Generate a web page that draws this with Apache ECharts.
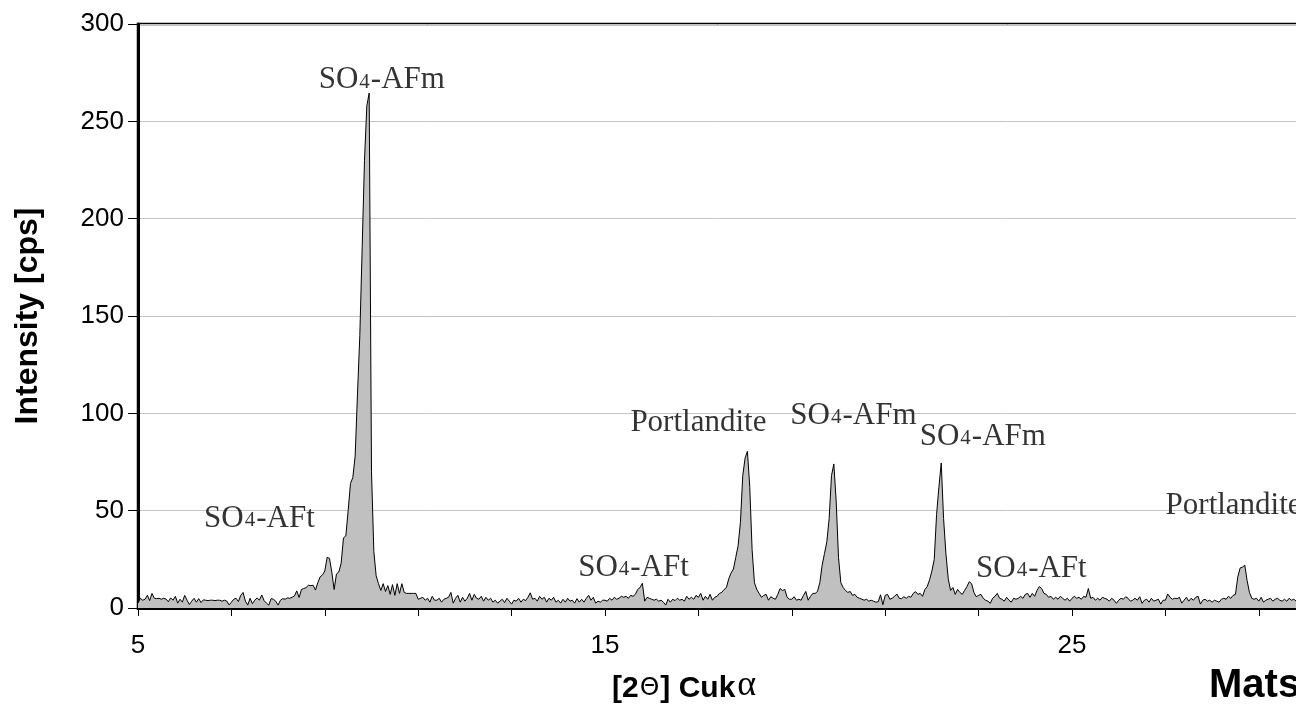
<!DOCTYPE html>
<html><head><meta charset="utf-8">
<script src="https://cdn.jsdelivr.net/npm/echarts@6/dist/echarts.min.js"></script>
<style>html,body{margin:0;padding:0;background:#fff;overflow:hidden}#chart{width:1296px;height:726px}</style>
</head><body><div id="chart"></div>
<script>
// XRD pattern, sampled from 5.00° 2θ in 0.05° steps
const twoThetaStart = 5.0;
const twoThetaStep = 0.05;
const intensity = [
  2.5, 5.0, 4.0, 4.5, 6.5, 3.8, 7.5, 5.0, 4.8, 5.0, 4.5, 5.0, 4.6, 3.2, 5.2, 4.0, 6.0, 2.5, 4.5, 3.0,
  6.5, 4.0, 1.8, 3.5, 5.0, 3.0, 4.8, 2.8, 4.2, 4.0, 3.8, 4.0, 4.0, 3.8, 4.0, 4.0, 3.5, 4.0, 3.6, 1.6,
  3.0, 4.5, 5.0, 3.3, 6.5, 8.0, 3.5, 1.5, 5.0, 2.2, 4.0, 5.2, 4.0, 6.7, 3.8, 2.5, 1.5, 4.8, 4.5, 3.5,
  1.5, 4.0, 4.8, 4.5, 5.2, 5.0, 5.5, 6.2, 8.8, 5.4, 9.5, 10.0, 10.5, 11.7, 11.5, 11.7, 9.2, 13.0, 16.0, 17.0,
  19.0, 26.0, 25.5, 18.5, 9.5, 17.5, 18.5, 23.0, 36.0, 37.0, 50.0, 64.0, 67.0, 78.0, 110.0, 140.0, 185.0, 230.0, 258.0, 264.5,
  70.0, 29.0, 16.5, 12.5, 9.0, 12.5, 8.5, 11.5, 7.0, 12.0, 6.5, 12.5, 7.5, 12.5, 8.0, 7.5, 7.5, 7.5, 7.5, 7.5,
  4.5, 5.0, 5.5, 4.0, 5.0, 3.0, 6.0, 4.0, 4.0, 5.0, 3.0, 4.5, 5.0, 5.5, 8.0, 2.5, 5.0, 6.5, 3.0, 5.5,
  3.5, 5.0, 7.5, 4.0, 7.0, 5.0, 4.5, 6.0, 3.5, 5.5, 4.0, 5.0, 3.0, 4.0, 2.5, 3.5, 4.5, 2.8, 5.0, 3.5,
  2.0, 4.0, 3.5, 5.0, 3.0, 4.5, 3.8, 5.5, 7.8, 4.5, 5.0, 3.5, 6.0, 4.5, 5.5, 3.0, 5.0, 4.0, 5.5, 3.0,
  4.0, 2.5, 4.5, 3.0, 5.0, 3.5, 4.0, 2.5, 4.8, 3.0, 4.5, 3.0, 5.0, 6.5, 4.0, 5.5, 2.5, 3.5, 3.0, 4.0,
  4.0, 3.5, 5.0, 4.0, 5.5, 4.5, 5.0, 6.0, 5.5, 6.0, 5.0, 6.5, 6.0, 7.0, 9.5, 10.5, 12.7, 3.5, 5.5, 5.0,
  4.5, 4.0, 4.5, 3.5, 4.0, 3.0, 1.5, 4.5, 3.0, 4.5, 3.8, 5.0, 4.0, 4.5, 3.5, 6.0, 4.5, 5.5, 4.5, 6.5,
  5.5, 7.5, 4.0, 6.0, 4.5, 7.0, 4.0, 5.5, 6.0, 7.5, 8.0, 9.5, 10.5, 15.0, 18.0, 20.0, 26.0, 32.0, 44.0, 68.0,
  77.0, 80.5, 62.0, 30.0, 13.0, 9.5, 7.5, 5.5, 6.5, 7.0, 4.0, 5.8, 5.0, 4.5, 7.0, 10.0, 9.0, 9.5, 5.5, 4.5,
  4.5, 5.8, 4.0, 4.5, 4.0, 6.5, 8.5, 4.0, 6.0, 7.5, 7.5, 8.5, 13.0, 22.0, 28.0, 34.0, 46.0, 68.0, 74.0, 55.0,
  26.0, 13.0, 10.5, 9.0, 8.0, 8.5, 6.5, 7.0, 5.5, 5.0, 4.5, 4.0, 4.5, 3.5, 4.0, 3.5, 3.0, 3.2, 6.8, 1.7,
  6.5, 7.0, 4.5, 5.0, 6.0, 7.2, 5.0, 4.8, 5.8, 5.0, 6.0, 5.5, 7.5, 8.4, 7.0, 7.5, 6.0, 9.5, 11.0, 14.5,
  19.0, 25.0, 48.0, 62.0, 74.5, 46.0, 28.0, 15.0, 9.0, 10.5, 7.0, 9.5, 8.0, 7.0, 9.0, 11.0, 13.5, 12.5, 8.0, 5.8,
  6.5, 7.0, 5.0, 4.0, 3.5, 2.4, 5.0, 6.0, 7.5, 5.0, 4.5, 3.5, 5.5, 4.0, 3.0, 5.0, 4.5, 5.0, 6.0, 5.0,
  7.0, 7.5, 5.5, 7.5, 6.0, 9.0, 11.0, 10.0, 7.5, 7.0, 5.5, 6.0, 4.5, 5.5, 4.5, 6.0, 5.0, 4.0, 5.0, 3.5,
  5.0, 6.0, 5.0, 5.5, 4.5, 6.0, 5.5, 10.0, 5.0, 5.5, 4.0, 5.0, 4.0, 5.5, 5.0, 4.5, 3.5, 5.0, 4.0, 2.4,
  4.0, 5.0, 4.5, 5.8, 5.0, 3.5, 4.0, 5.0, 4.0, 5.8, 2.4, 4.0, 4.5, 3.0, 5.0, 3.5, 4.0, 4.5, 2.0, 4.0,
  4.0, 7.2, 5.5, 4.5, 5.0, 4.8, 5.5, 2.5, 4.0, 5.5, 3.5, 5.0, 4.0, 5.5, 6.0, 2.0, 4.0, 4.5, 3.5, 4.0,
  3.0, 4.0, 3.5, 3.0, 4.5, 5.0, 4.5, 6.0, 5.0, 6.5, 7.0, 16.0, 20.5, 21.0, 22.0, 14.0, 8.0, 5.0, 4.5, 5.0,
  3.5, 5.5, 3.0, 4.0, 4.5, 5.0, 3.5, 4.5, 5.0, 4.0, 3.5, 4.5, 3.5, 5.0, 4.0, 4.5, 3.5, 4.0, 4.5, 4.0,
  4.0
];

// Axis ticks / labels
const xTickLabels = [5, 15, 25];
const yTickValues = [0, 50, 100, 150, 200, 250, 300];

// Peak annotations (phase name, 2θ position, intensity position of label centre)
const peakNames = ['SO4-AFm', 'SO4-AFt', 'SO4-AFt', 'Portlandite', 'SO4-AFm', 'SO4-AFm', 'SO4-AFt', 'Portlandite'];
const peakLabelX = [10.22, 7.60, 15.61, 17.00, 20.32, 23.09, 24.13, 28.46];
const peakLabelY = [272, 46.5, 21.6, 96, 99.6, 88.9, 21, 53.4];

const xAxisTitle = '[2Θ] Cukα';
const yAxisTitle = 'Intensity [cps]';
const cornerText = 'Matschei';

const series1 = intensity.map((v, i) => [+(twoThetaStart + i * twoThetaStep).toFixed(2), v]);
const annotations = peakNames.map((n, i) => ({ value: [peakLabelX[i], peakLabelY[i]], name: n }));

function richName(n) {
  if (n.indexOf('SO4') === 0) return '{a|SO}{s|4}{a|' + n.slice(3) + '}';
  return '{a|' + n + '}';
}

const chart = echarts.init(document.getElementById('chart'), null, { renderer: 'canvas' });
chart.setOption({
  animation: false,
  backgroundColor: '#ffffff',
  grid: {
    left: 138, top: 24, width: 1401, height: 584,
    show: true, borderColor: '#000', borderWidth: 2.5, backgroundColor: 'transparent',
    containLabel: false, outerBoundsMode: 'none'
  },
  xAxis: {
    type: 'value', min: 5, max: 35, interval: 2,
    axisLine: { show: true, lineStyle: { color: '#000', width: 3 } },
    axisTick: { show: true, inside: false, length: 8, lineStyle: { color: '#000', width: 1 } },
    splitLine: { show: false },
    axisLabel: {
      show: true, margin: 25, color: '#000', fontFamily: 'Liberation Sans', fontSize: 26,
      showMaxLabel: false,
      formatter: v => (xTickLabels.indexOf(Math.round(v)) >= 0 && Math.abs(v - Math.round(v)) < 1e-6) ? String(Math.round(v)) : ''
    }
  },
  yAxis: {
    type: 'value', min: 0, max: 300, interval: 50,
    name: yAxisTitle, nameLocation: 'middle', nameGap: 94,
    nameTextStyle: { color: '#000', fontFamily: 'Liberation Sans', fontWeight: 'bold', fontSize: 32 },
    axisLine: { show: true, lineStyle: { color: '#000', width: 3 } },
    axisTick: { show: true, inside: false, length: 10, lineStyle: { color: '#000', width: 1 } },
    splitLine: { show: true, lineStyle: { color: '#c4c4c4', width: 1 } },
    axisLabel: {
      margin: 14, color: '#000', fontFamily: 'Liberation Sans', fontSize: 26,
      formatter: v => yTickValues.indexOf(v) >= 0 ? String(v) : ''
    }
  },
  series: [
    {
      type: 'line', data: series1, symbol: 'none', smooth: false,
      lineStyle: { color: '#000', width: 1 },
      areaStyle: { color: '#c0c0c0', opacity: 1, origin: 'start' },
      z: 2
    },
    {
      type: 'scatter', data: annotations, symbolSize: 1,
      itemStyle: { color: 'rgba(0,0,0,0)' },
      label: {
        show: true, position: 'inside', color: '#000',
        formatter: p => richName(p.name),
        rich: {
          a: { fontFamily: 'Liberation Serif', fontSize: 31, lineHeight: 34, color: '#000', verticalAlign: 'bottom' },
          s: { fontFamily: 'Liberation Serif', fontSize: 21, lineHeight: 21, color: '#000', verticalAlign: 'bottom', padding: [0, 1, 3, 1] }
        }
      },
      z: 5, silent: true
    }
  ],
  graphic: [
    {
      type: 'text', left: 612, top: 668,
      style: {
        text: '{b|[2}{t|Θ}{b|] Cuk}{g|α}',
        rich: {
          b: { fontFamily: 'Liberation Sans', fontWeight: 'bold', fontSize: 30, fill: '#000', verticalAlign: 'bottom', lineHeight: 36 },
          t: { fontFamily: 'DejaVu Sans', fontSize: 25, fill: '#000', verticalAlign: 'bottom', padding: [0, 1, 3, 1] },
          g: { fontFamily: 'Liberation Serif', fontSize: 36, fill: '#000', verticalAlign: 'bottom', padding: [0, 0, 0, 2] }
        }
      }
    },
    {
      type: 'text', left: 1209, top: 666,
      style: { text: cornerText, fontFamily: 'Liberation Sans', fontWeight: 'bold', fontSize: 40, fill: '#000' }
    }
  ]
});
</script>
</body></html>
